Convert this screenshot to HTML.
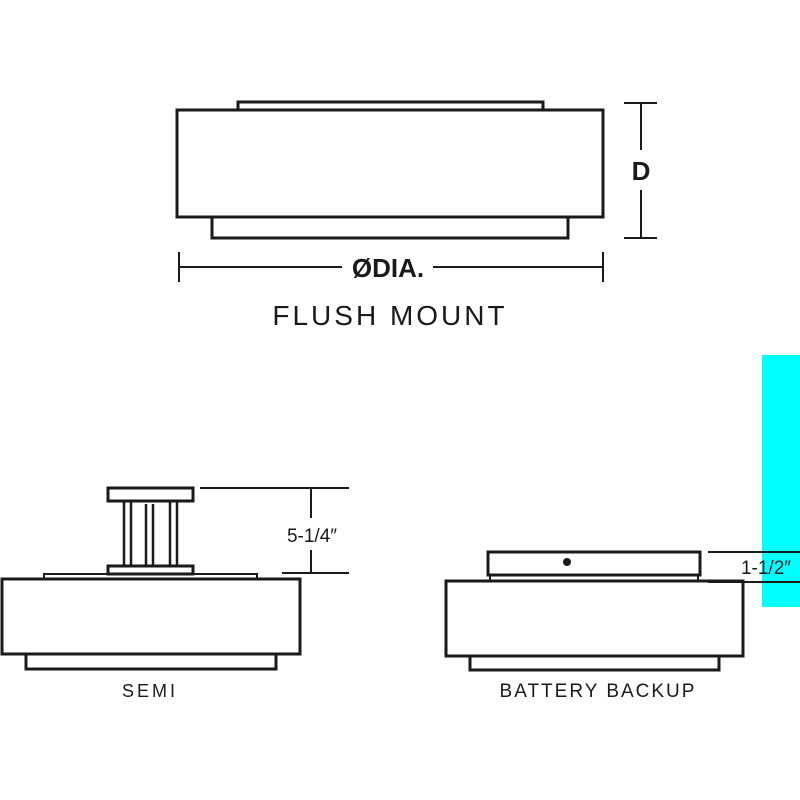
<!DOCTYPE html>
<html><head><style>body{margin:0;background:#fff}</style></head><body>
<svg width="800" height="800" xmlns="http://www.w3.org/2000/svg" style="display:block">
<rect x="762" y="355" width="38" height="252" fill="#00ffff"/>
<g fill="none" stroke="#1a1a1a" stroke-width="3">
<rect x="238" y="102" width="305" height="8"/>
<rect x="177" y="110" width="426" height="107"/>
<rect x="212" y="217" width="356" height="21"/>
<rect x="108" y="488" width="85" height="13"/>
<rect x="108" y="566" width="85" height="8"/>
<rect x="44" y="574" width="213" height="5" stroke-width="2"/>
<rect x="2" y="579" width="298" height="75"/>
<rect x="26" y="654" width="250" height="15"/>
<rect x="488" y="552" width="212" height="23"/>
<rect x="490" y="575" width="208" height="6" stroke-width="2"/>
<rect x="446" y="581" width="297" height="75"/>
<rect x="470" y="656" width="249" height="14"/>
</g>
<g stroke="#1a1a1a" stroke-width="2.5">
<line x1="124" y1="501" x2="124" y2="566"/><line x1="131" y1="501" x2="131" y2="566"/>
<line x1="146" y1="504" x2="146" y2="566"/><line x1="153" y1="504" x2="153" y2="566"/>
<line x1="170" y1="501" x2="170" y2="566"/><line x1="177" y1="501" x2="177" y2="566"/>
</g>
<circle cx="567" cy="562" r="4" fill="#1a1a1a"/>
<g stroke="#1a1a1a" stroke-width="2">
<line x1="641" y1="103" x2="641" y2="150"/><line x1="641" y1="190" x2="641" y2="238"/>
<line x1="624" y1="103" x2="657" y2="103"/><line x1="624" y1="238" x2="657" y2="238"/>
<line x1="179" y1="267" x2="342" y2="267"/><line x1="433" y1="267" x2="603" y2="267"/>
<line x1="179" y1="252" x2="179" y2="282"/><line x1="603" y1="252" x2="603" y2="282"/>
<line x1="200" y1="488" x2="349" y2="488"/><line x1="282" y1="573" x2="349" y2="573"/>
<line x1="311" y1="488" x2="311" y2="518"/><line x1="311" y1="550" x2="311" y2="573"/>
<line x1="708" y1="552" x2="800" y2="552"/><line x1="708" y1="582" x2="800" y2="582"/>
</g>
<g font-family="Liberation Sans, sans-serif" fill="#1a1a1a" text-anchor="middle">
<text x="641" y="180" font-size="26" font-weight="bold">D</text>
<text x="388" y="277" font-size="26" font-weight="bold">ØDIA.</text>
<text x="390" y="325" font-size="28" letter-spacing="3">FLUSH MOUNT</text>
<text x="312" y="542" font-size="19">5-1/4″</text>
<text x="766" y="574" font-size="19">1-1/2″</text>
<text x="150" y="697" font-size="18" letter-spacing="3">SEMI</text>
<text x="598" y="697" font-size="19" letter-spacing="2">BATTERY BACKUP</text>
</g>
</svg>
</body></html>
